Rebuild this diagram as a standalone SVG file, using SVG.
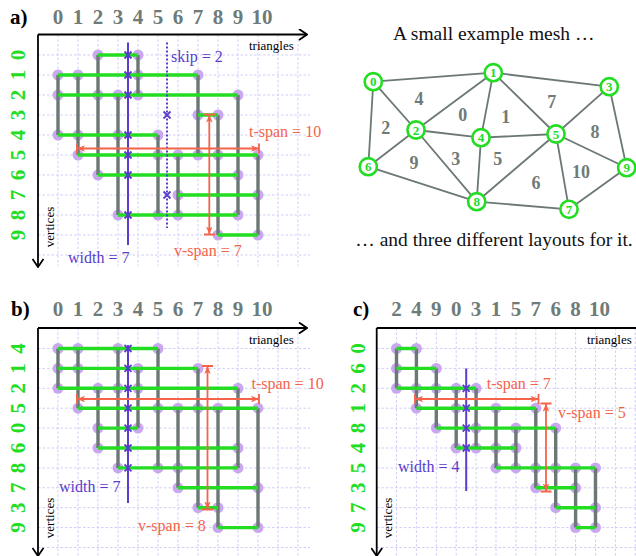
<svg xmlns="http://www.w3.org/2000/svg" width="636" height="556" viewBox="0 0 636 556" font-family="Liberation Serif, DejaVu Serif, serif">
<style>
text{font-family:'Liberation Serif','DejaVu Serif',serif}
.hd{font-size:21px;font-weight:bold;fill:#000}
.cl{font-size:21px;font-weight:bold;fill:#6e7b79;text-anchor:middle}
.rl{font-size:21px;font-weight:bold;fill:#22dd22;text-anchor:middle}
.ax{font-size:13px;fill:#000}
.axv{font-size:13px;fill:#000;text-anchor:middle}
.grid{fill:none;stroke:#cfcdf7;stroke-width:1;stroke-dasharray:2.5 2}
.axis{fill:none;stroke:#000;stroke-width:1.8}
.d{fill:#c9a8f0}
.g{fill:none;stroke:#6c7876;stroke-width:3.4}
.gr{fill:none;stroke:#22dd22;stroke-width:3.4}
.bl{fill:none;stroke:#5a3dcc;stroke-width:2}
.bld{fill:none;stroke:#5a3dcc;stroke-width:2;stroke-dasharray:2 2}
.bx{fill:none;stroke:#5a3dcc;stroke-width:1.8}
.bt{font-size:16px;fill:#5a3dcc}
.rd{fill:none;stroke:#f4634a;stroke-width:1.8}
.rt{font-size:16px;fill:#f4634a}
.edge{fill:none;stroke:#6c7876;stroke-width:1.8}
.vc{fill:#fff;stroke:#22dd22;stroke-width:2.6}
.vt{font-size:13px;font-weight:bold;fill:#22dd22;text-anchor:middle}
.tt{font-size:18px;font-weight:bold;fill:#6e7b79;text-anchor:middle}
.cap{font-size:19.5px;fill:#111;text-anchor:middle}
</style>
<defs>
<marker id="ah" viewBox="0 0 10 8" refX="10" refY="4" markerWidth="8" markerHeight="7" orient="auto-start-reverse" markerUnits="userSpaceOnUse"><path d="M0,0 L10,4 L0,8 L2.5,4 z" fill="#f4634a"/></marker>
<marker id="ch" viewBox="0 0 10 12" refX="9" refY="6" markerWidth="10" markerHeight="12" orient="auto" markerUnits="userSpaceOnUse"><path d="M1,0.5 L9,6 L1,11.5" fill="none" stroke="#000" stroke-width="1.8"/></marker>
<path id="xm" d="M-3.5,-3.5 L3.5,3.5 M-3.5,3.5 L3.5,-3.5"/>
</defs>
<rect width="636" height="556" fill="#fff"/>

<!-- ================= PANEL A ================= -->
<g id="panel-a">
<path class="grid" d="M58 35V266M78 35V266M98 35V266M118 35V266M138 35V266M158 35V266M178 35V266M198 35V266M218 35V266M238 35V266M258 35V266M278 35V266M298 35V266M38 55H310M38 75H310M38 95H310M38 115H310M38 135H310M38 155H310M38 175H310M38 195H310M38 215H310M38 235H310M38 255H310"/>
<path class="axis" d="M38 34.5H307" marker-end="url(#ch)"/>
<path class="axis" d="M38 34.5V267" marker-end="url(#ch)"/>
<text class="hd" x="10" y="24">a)</text>
<g>
<text class="cl" x="58" y="24">0</text><text class="cl" x="78" y="24">1</text><text class="cl" x="98" y="24">2</text><text class="cl" x="118" y="24">3</text><text class="cl" x="138" y="24">4</text><text class="cl" x="158" y="24">5</text><text class="cl" x="178" y="24">6</text><text class="cl" x="198" y="24">7</text><text class="cl" x="218" y="24">8</text><text class="cl" x="238" y="24">9</text><text class="cl" x="262" y="24">10</text>
</g>
<g>
<text class="rl" transform="translate(25,55) rotate(-90)">0</text>
<text class="rl" transform="translate(25,75) rotate(-90)">1</text>
<text class="rl" transform="translate(25,95) rotate(-90)">2</text>
<text class="rl" transform="translate(25,115) rotate(-90)">3</text>
<text class="rl" transform="translate(25,135) rotate(-90)">4</text>
<text class="rl" transform="translate(25,155) rotate(-90)">5</text>
<text class="rl" transform="translate(25,175) rotate(-90)">6</text>
<text class="rl" transform="translate(25,195) rotate(-90)">7</text>
<text class="rl" transform="translate(25,215) rotate(-90)">8</text>
<text class="rl" transform="translate(25,235) rotate(-90)">9</text>
</g>
<text class="ax" x="249" y="49.5">triangles</text>
<text class="axv" transform="translate(54,227) rotate(-90)">vertices</text>
<g>
<circle class="d" cx="98" cy="55" r="5.5"/><circle class="d" cx="138" cy="55" r="5.5"/>
<circle class="d" cx="58" cy="75" r="5.5"/><circle class="d" cx="78" cy="75" r="5.5"/><circle class="d" cx="138" cy="75" r="5.5"/><circle class="d" cx="198" cy="75" r="5.5"/>
<circle class="d" cx="58" cy="95" r="5.5"/><circle class="d" cx="98" cy="95" r="5.5"/><circle class="d" cx="118" cy="95" r="5.5"/><circle class="d" cx="138" cy="95" r="5.5"/><circle class="d" cx="238" cy="95" r="5.5"/>
<circle class="d" cx="198" cy="115" r="5.5"/><circle class="d" cx="218" cy="115" r="5.5"/>
<circle class="d" cx="58" cy="135" r="5.5"/><circle class="d" cx="78" cy="135" r="5.5"/><circle class="d" cx="118" cy="135" r="5.5"/><circle class="d" cx="158" cy="135" r="5.5"/>
<circle class="d" cx="78" cy="155" r="5.5"/><circle class="d" cx="158" cy="155" r="5.5"/><circle class="d" cx="178" cy="155" r="5.5"/><circle class="d" cx="198" cy="155" r="5.5"/><circle class="d" cx="218" cy="155" r="5.5"/><circle class="d" cx="258" cy="155" r="5.5"/>
<circle class="d" cx="98" cy="175" r="5.5"/><circle class="d" cx="238" cy="175" r="5.5"/>
<circle class="d" cx="178" cy="195" r="5.5"/><circle class="d" cx="258" cy="195" r="5.5"/>
<circle class="d" cx="118" cy="215" r="5.5"/><circle class="d" cx="158" cy="215" r="5.5"/><circle class="d" cx="178" cy="215" r="5.5"/><circle class="d" cx="238" cy="215" r="5.5"/>
<circle class="d" cx="218" cy="235" r="5.5"/><circle class="d" cx="258" cy="235" r="5.5"/>
</g>
<path class="g" d="M58 75V135M78 75V155M98 55V175M118 95V215M138 55V95M158 135V215M178 155V215M198 75V155M218 115V235M238 95V215M258 155V235"/>
<path class="gr" d="M98 55H138M58 75H198M58 95H238M198 115H218M58 135H158M78 155H258M98 175H238M178 195H258M118 215H238M218 235H258"/>
<path class="bl" d="M128 42.5V245"/>
<g class="bx"><use href="#xm" x="128" y="55"/><use href="#xm" x="128" y="75"/><use href="#xm" x="128" y="95"/><use href="#xm" x="128" y="135"/><use href="#xm" x="128" y="155"/><use href="#xm" x="128" y="175"/><use href="#xm" x="128" y="215"/></g>
<path class="bld" d="M167 42.5V228"/>
<g class="bx"><use href="#xm" x="167" y="115"/><use href="#xm" x="167" y="195"/></g>
<text class="bt" x="171" y="62">skip = 2</text>
<text class="bt" x="68" y="263">width = 7</text>
<path class="rd" d="M77 148.5H259" marker-start="url(#ah)" marker-end="url(#ah)"/>
<path class="rd" d="M77 143.5V153.5M259 143.5V153.5"/>
<text class="rt" x="249" y="137">t-span = 10</text>
<path class="rd" d="M209.3 114.5V234.5" marker-start="url(#ah)" marker-end="url(#ah)"/>
<path class="rd" d="M204 114.5H215M204 234.5H215"/>
<text class="rt" x="174" y="256">v-span = 7</text>
</g>

<!-- ================= MESH ================= -->
<text class="cap" x="493.7" y="40">A small example mesh …</text>
<text class="cap" x="494" y="246">… and three different layouts for it.</text>
<g id="mesh-edges">
<path class="edge" d="M373.3 81.7L493.3 72.7M493.3 72.7L609.3 86.7M373.3 81.7L416 130M373.3 81.7L368.3 166.7M493.3 72.7L416 130M416 130L481 137.7M416 130L368.3 166.7M416 130L476.7 201.7M493.3 72.7L481 137.7M493.3 72.7L556 134M481 137.7L556 134M481 137.7L476.7 201.7M609.3 86.7L556 134M609.3 86.7L626.7 167.7M556 134L626.7 167.7M556 134L476.7 201.7M556 134L569 209.3M368.3 166.7L476.7 201.7M476.7 201.7L569 209.3M569 209.3L626.7 167.7"/>
</g>
<g id="mesh-triangles">
<text class="tt" x="419" y="105">4</text>
<text class="tt" x="462.7" y="121">0</text>
<text class="tt" x="505.7" y="123">1</text>
<text class="tt" x="551.7" y="107.7">7</text>
<text class="tt" x="595" y="137.7">8</text>
<text class="tt" x="385.7" y="134">2</text>
<text class="tt" x="414" y="169">9</text>
<text class="tt" x="455.7" y="165">3</text>
<text class="tt" x="497.7" y="165">5</text>
<text class="tt" x="536" y="188.7">6</text>
<text class="tt" x="581" y="177.7">10</text>
</g>
<g id="v0"><circle class="vc" cx="373.3" cy="81.7" r="8.6"/><text class="vt" x="373.3" y="86.2">0</text></g>
<g id="v1"><circle class="vc" cx="493.3" cy="72.7" r="8.6"/><text class="vt" x="493.3" y="77.2">1</text></g>
<g id="v2"><circle class="vc" cx="416" cy="130" r="8.6"/><text class="vt" x="416" y="134.5">2</text></g>
<g id="v3"><circle class="vc" cx="609.3" cy="86.7" r="8.6"/><text class="vt" x="609.3" y="91.2">3</text></g>
<g id="v4"><circle class="vc" cx="481" cy="137.7" r="8.6"/><text class="vt" x="481" y="142.2">4</text></g>
<g id="v5"><circle class="vc" cx="556" cy="134" r="8.6"/><text class="vt" x="556" y="138.5">5</text></g>
<g id="v6"><circle class="vc" cx="368.3" cy="166.7" r="8.6"/><text class="vt" x="368.3" y="171.2">6</text></g>
<g id="v7"><circle class="vc" cx="569" cy="209.3" r="8.6"/><text class="vt" x="569" y="213.8">7</text></g>
<g id="v8"><circle class="vc" cx="476.7" cy="201.7" r="8.6"/><text class="vt" x="476.7" y="206.2">8</text></g>
<g id="v9"><circle class="vc" cx="626.7" cy="167.7" r="8.6"/><text class="vt" x="626.7" y="172.2">9</text></g>

<!-- ================= PANEL B ================= -->
<g id="panel-b">
<path class="grid" d="M58 328V556M78 328V556M98 328V556M118 328V556M138 328V556M158 328V556M178 328V556M198 328V556M218 328V556M238 328V556M258 328V556M278 328V556M298 328V556M38 348.5H310M38 368.4H310M38 388.3H310M38 408.2H310M38 428.1H310M38 448H310M38 467.9H310M38 487.8H310M38 507.7H310M38 527.6H310M38 547.5H310"/>
<path class="axis" d="M38 328H307" marker-end="url(#ch)"/>
<path class="axis" d="M38 328V556" marker-end="url(#ch)"/>
<text class="hd" x="11" y="316">b)</text>
<g>
<text class="cl" x="58" y="316">0</text><text class="cl" x="78" y="316">1</text><text class="cl" x="98" y="316">2</text><text class="cl" x="118" y="316">3</text><text class="cl" x="138" y="316">4</text><text class="cl" x="158" y="316">5</text><text class="cl" x="178" y="316">6</text><text class="cl" x="198" y="316">7</text><text class="cl" x="218" y="316">8</text><text class="cl" x="238" y="316">9</text><text class="cl" x="262" y="316">10</text>
</g>
<g>
<text class="rl" transform="translate(25,348.5) rotate(-90)">4</text>
<text class="rl" transform="translate(25,368.4) rotate(-90)">1</text>
<text class="rl" transform="translate(25,388.3) rotate(-90)">2</text>
<text class="rl" transform="translate(25,408.2) rotate(-90)">5</text>
<text class="rl" transform="translate(25,428.1) rotate(-90)">0</text>
<text class="rl" transform="translate(25,448) rotate(-90)">6</text>
<text class="rl" transform="translate(25,467.9) rotate(-90)">8</text>
<text class="rl" transform="translate(25,487.8) rotate(-90)">7</text>
<text class="rl" transform="translate(25,507.7) rotate(-90)">3</text>
<text class="rl" transform="translate(25,527.6) rotate(-90)">9</text>
</g>
<text class="ax" x="249" y="343.5">triangles</text>
<text class="axv" transform="translate(54,518) rotate(-90)">vertices</text>
<g>
<circle class="d" cx="58" cy="348.5" r="5.5"/><circle class="d" cx="78" cy="348.5" r="5.5"/><circle class="d" cx="118" cy="348.5" r="5.5"/><circle class="d" cx="158" cy="348.5" r="5.5"/>
<circle class="d" cx="58" cy="368.4" r="5.5"/><circle class="d" cx="78" cy="368.4" r="5.5"/><circle class="d" cx="138" cy="368.4" r="5.5"/><circle class="d" cx="198" cy="368.4" r="5.5"/>
<circle class="d" cx="58" cy="388.3" r="5.5"/><circle class="d" cx="98" cy="388.3" r="5.5"/><circle class="d" cx="118" cy="388.3" r="5.5"/><circle class="d" cx="138" cy="388.3" r="5.5"/><circle class="d" cx="238" cy="388.3" r="5.5"/>
<circle class="d" cx="78" cy="408.2" r="5.5"/><circle class="d" cx="158" cy="408.2" r="5.5"/><circle class="d" cx="178" cy="408.2" r="5.5"/><circle class="d" cx="198" cy="408.2" r="5.5"/><circle class="d" cx="218" cy="408.2" r="5.5"/><circle class="d" cx="258" cy="408.2" r="5.5"/>
<circle class="d" cx="98" cy="428.1" r="5.5"/><circle class="d" cx="138" cy="428.1" r="5.5"/>
<circle class="d" cx="98" cy="448" r="5.5"/><circle class="d" cx="238" cy="448" r="5.5"/>
<circle class="d" cx="118" cy="467.9" r="5.5"/><circle class="d" cx="158" cy="467.9" r="5.5"/><circle class="d" cx="178" cy="467.9" r="5.5"/><circle class="d" cx="238" cy="467.9" r="5.5"/>
<circle class="d" cx="178" cy="487.8" r="5.5"/><circle class="d" cx="258" cy="487.8" r="5.5"/>
<circle class="d" cx="198" cy="507.7" r="5.5"/><circle class="d" cx="218" cy="507.7" r="5.5"/>
<circle class="d" cx="218" cy="527.6" r="5.5"/><circle class="d" cx="258" cy="527.6" r="5.5"/>
</g>
<path class="g" d="M58 348.5V388.3M78 348.5V408.2M98 388.3V448M118 348.5V467.9M138 368.4V428.1M158 348.5V467.9M178 408.2V487.8M198 368.4V507.7M218 408.2V527.6M238 388.3V467.9M258 408.2V527.6"/>
<path class="gr" d="M58 348.5H158M58 368.4H198M58 388.3H238M78 408.2H258M98 428.1H138M98 448H238M118 467.9H238M178 487.8H258M198 507.7H218M218 527.6H258"/>
<path class="bl" d="M128 345V503"/>
<g class="bx"><use href="#xm" x="128" y="348.5"/><use href="#xm" x="128" y="368.4"/><use href="#xm" x="128" y="388.3"/><use href="#xm" x="128" y="408.2"/><use href="#xm" x="128" y="428.1"/><use href="#xm" x="128" y="448"/><use href="#xm" x="128" y="467.9"/></g>
<text class="bt" x="59" y="492">width = 7</text>
<path class="rd" d="M77 399H259" marker-start="url(#ah)" marker-end="url(#ah)"/>
<path class="rd" d="M77 394V404M259 394V404"/>
<text class="rt" x="251.5" y="389">t-span = 10</text>
<path class="rd" d="M207.5 366V509.5" marker-start="url(#ah)" marker-end="url(#ah)"/>
<path class="rd" d="M202 366H213M202 509.5H213"/>
<text class="rt" x="138" y="531">v-span = 8</text>
</g>

<!-- ================= PANEL C ================= -->
<g id="panel-c">
<path class="grid" d="M396.5 328V556M416.4 328V556M436.3 328V556M456.2 328V556M476.1 328V556M496 328V556M515.9 328V556M535.8 328V556M555.7 328V556M575.6 328V556M595.5 328V556M615.4 328V556M635.3 328V556M377 348.5H636M377 368.4H636M377 388.3H636M377 408.2H636M377 428.1H636M377 448H636M377 467.9H636M377 487.8H636M377 507.7H636M377 527.6H636M377 547.5H636"/>
<path class="axis" d="M376.7 328H640"/>
<path class="axis" d="M376.7 328V556" marker-end="url(#ch)"/>
<text class="hd" x="353" y="316">c)</text>
<g>
<text class="cl" x="396.5" y="316">2</text><text class="cl" x="416.4" y="316">4</text><text class="cl" x="436.3" y="316">9</text><text class="cl" x="456.2" y="316">0</text><text class="cl" x="476.1" y="316">3</text><text class="cl" x="496" y="316">1</text><text class="cl" x="515.9" y="316">5</text><text class="cl" x="535.8" y="316">7</text><text class="cl" x="555.7" y="316">6</text><text class="cl" x="575.6" y="316">8</text><text class="cl" x="599.5" y="316">10</text>
</g>
<g>
<text class="rl" transform="translate(365,348.5) rotate(-90)">0</text>
<text class="rl" transform="translate(365,368.4) rotate(-90)">6</text>
<text class="rl" transform="translate(365,388.3) rotate(-90)">2</text>
<text class="rl" transform="translate(365,408.2) rotate(-90)">1</text>
<text class="rl" transform="translate(365,428.1) rotate(-90)">8</text>
<text class="rl" transform="translate(365,448) rotate(-90)">4</text>
<text class="rl" transform="translate(365,467.9) rotate(-90)">5</text>
<text class="rl" transform="translate(365,487.8) rotate(-90)">3</text>
<text class="rl" transform="translate(365,507.7) rotate(-90)">7</text>
<text class="rl" transform="translate(365,527.6) rotate(-90)">9</text>
</g>
<text class="ax" x="587" y="343.5">triangles</text>
<text class="axv" transform="translate(392,518) rotate(-90)">vertices</text>
<g>
<circle class="d" cx="396.5" cy="348.5" r="5.5"/><circle class="d" cx="416.4" cy="348.5" r="5.5"/>
<circle class="d" cx="396.5" cy="368.4" r="5.5"/><circle class="d" cx="436.3" cy="368.4" r="5.5"/>
<circle class="d" cx="396.5" cy="388.3" r="5.5"/><circle class="d" cx="416.4" cy="388.3" r="5.5"/><circle class="d" cx="436.3" cy="388.3" r="5.5"/><circle class="d" cx="456.2" cy="388.3" r="5.5"/><circle class="d" cx="476.1" cy="388.3" r="5.5"/>
<circle class="d" cx="416.4" cy="408.2" r="5.5"/><circle class="d" cx="456.2" cy="408.2" r="5.5"/><circle class="d" cx="496" cy="408.2" r="5.5"/><circle class="d" cx="535.8" cy="408.2" r="5.5"/>
<circle class="d" cx="436.3" cy="428.1" r="5.5"/><circle class="d" cx="476.1" cy="428.1" r="5.5"/><circle class="d" cx="515.9" cy="428.1" r="5.5"/><circle class="d" cx="555.7" cy="428.1" r="5.5"/>
<circle class="d" cx="456.2" cy="448" r="5.5"/><circle class="d" cx="476.1" cy="448" r="5.5"/><circle class="d" cx="496" cy="448" r="5.5"/><circle class="d" cx="515.9" cy="448" r="5.5"/>
<circle class="d" cx="496" cy="467.9" r="5.5"/><circle class="d" cx="515.9" cy="467.9" r="5.5"/><circle class="d" cx="535.8" cy="467.9" r="5.5"/><circle class="d" cx="555.7" cy="467.9" r="5.5"/><circle class="d" cx="575.6" cy="467.9" r="5.5"/><circle class="d" cx="595.5" cy="467.9" r="5.5"/>
<circle class="d" cx="535.8" cy="487.8" r="5.5"/><circle class="d" cx="575.6" cy="487.8" r="5.5"/>
<circle class="d" cx="555.7" cy="507.7" r="5.5"/><circle class="d" cx="595.5" cy="507.7" r="5.5"/>
<circle class="d" cx="575.6" cy="527.6" r="5.5"/><circle class="d" cx="595.5" cy="527.6" r="5.5"/>
</g>
<path class="g" d="M396.5 348.5V388.3M416.4 348.5V408.2M436.3 368.4V428.1M456.2 388.3V448M476.1 388.3V448M496 408.2V467.9M515.9 428.1V467.9M535.8 408.2V487.8M555.7 428.1V507.7M575.6 467.9V527.6M595.5 467.9V527.6"/>
<path class="gr" d="M396.5 348.5H416.4M396.5 368.4H436.3M396.5 388.3H476.1M416.4 408.2H535.8M436.3 428.1H555.7M456.2 448H515.9M496 467.9H595.5M535.8 487.8H575.6M555.7 507.7H595.5M575.6 527.6H595.5"/>
<path class="bl" d="M466.2 368.4V491"/>
<g class="bx"><use href="#xm" x="466.2" y="388.3"/><use href="#xm" x="466.2" y="408.2"/><use href="#xm" x="466.2" y="428.1"/><use href="#xm" x="466.2" y="448"/></g>
<text class="bt" x="398" y="472">width = 4</text>
<path class="rd" d="M415 399H538.5" marker-start="url(#ah)" marker-end="url(#ah)"/>
<path class="rd" d="M415 394V404M538.5 394V404"/>
<text class="rt" x="486.7" y="389">t-span = 7</text>
<path class="rd" d="M546 403.5V491.5" marker-start="url(#ah)" marker-end="url(#ah)"/>
<path class="rd" d="M540.5 403.5H551.5M540.5 491.5H551.5"/>
<text class="rt" x="558" y="418">v-span = 5</text>
</g>
</svg>
